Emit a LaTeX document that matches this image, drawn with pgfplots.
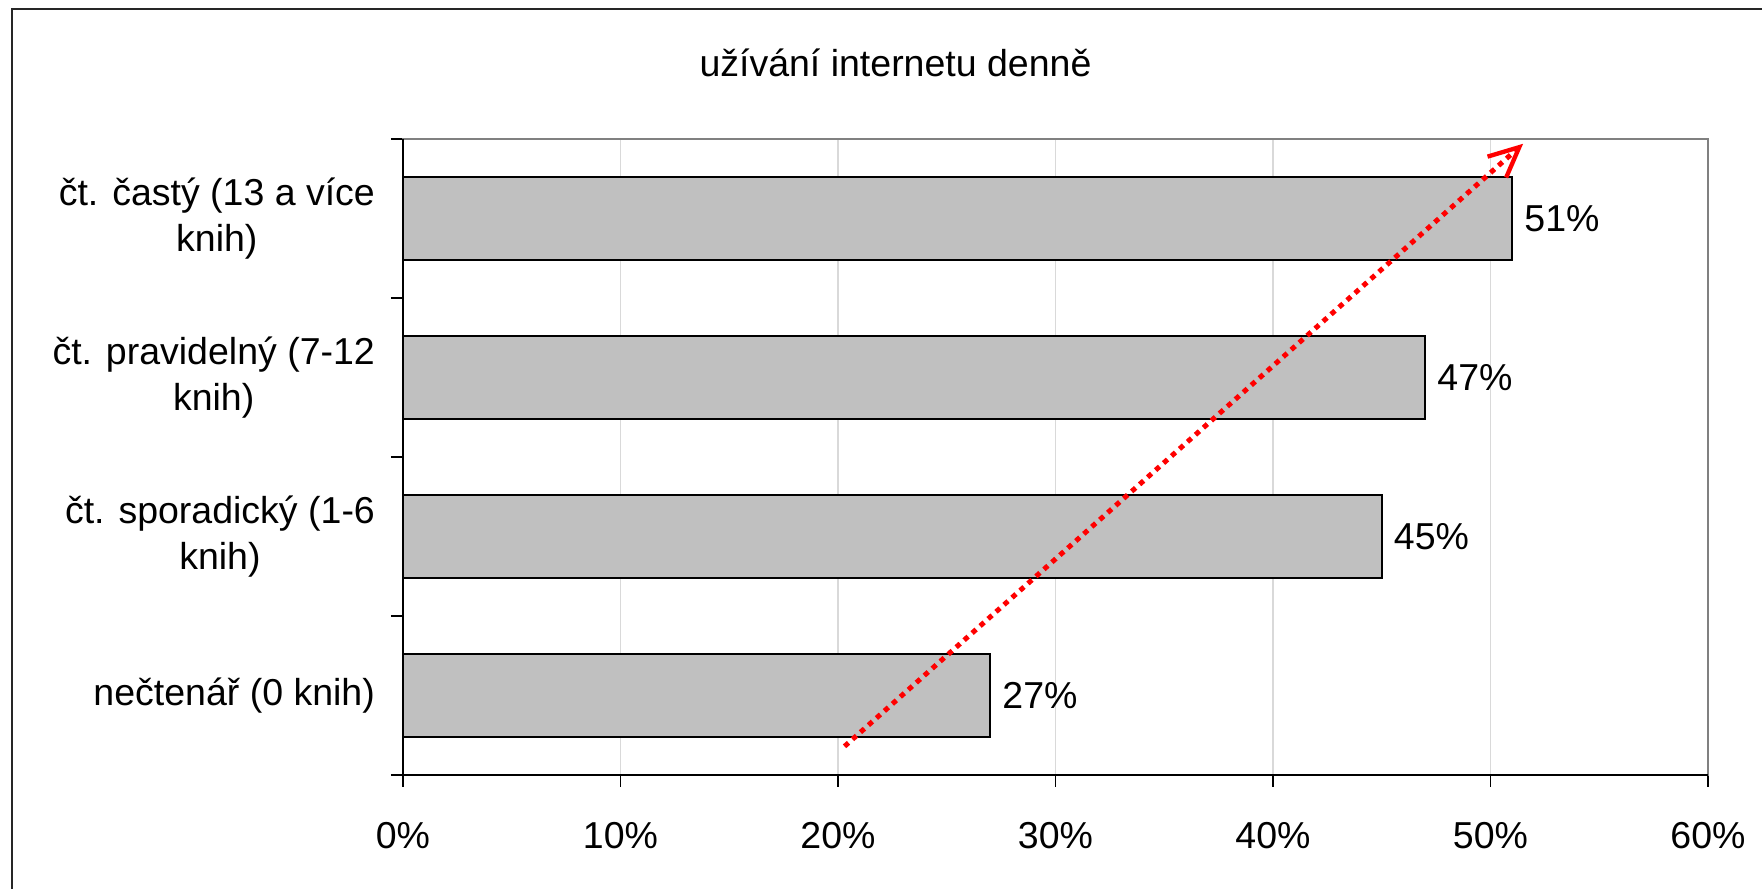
\documentclass[border=0pt]{standalone}
\usepackage{fontspec}
\setmainfont{Liberation Sans}
\usepackage{pgfplots}
\pgfplotsset{compat=1.18}
\usetikzlibrary{arrows.meta}

\definecolor{barfill}{HTML}{C0C0C0}
\definecolor{framegray}{HTML}{808080}
\definecolor{gridgray}{HTML}{D9D9D9}
\newcommand{\chartfont}{\fontsize{11.25}{14}\selectfont}

\begin{document}
\begin{tikzpicture}[font=\chartfont]
    % page size and outer frame (cut at right and bottom)
    \useasboundingbox (-120.9pt,-34.2pt) rectangle (407.7pt,232.5pt);
    \draw[line width=0.6pt, black!85] (-117.3pt,-40pt) -- (-117.3pt,229.8pt) -- (410pt,229.8pt);
    \node[anchor=base] at (147.75pt,209.4pt) {užívání internetu denně};

    \begin{axis}[
        at={(0,0)}, anchor=south west,
        scale only axis,
        width=391.5pt,
        height=190.8pt,
        xmin=0, xmax=60,
        ymin=-0.5, ymax=3.5,
        xtick={0,10,...,60},
        xticklabel={\pgfmathprintnumber{\tick}\%},
        /pgf/number format/assume math mode=true,
        ytick={0,1,2,3},
        yticklabels={{nečtenář (0 knih)},{čt. sporadický (1-6\\knih)},{čt. pravidelný (7-12\\knih)},{čt. častý (13 a více\\knih)}},
        yticklabel style={align=center, xshift=-1.3pt},
        minor ytick={-0.5,0.5,1.5,2.5,3.5},
        major y tick style={draw=none},
        tick align=outside,
        major tick length=3.6pt,
        minor tick length=3.6pt,
        tick style={black, line width=0.45pt},
        xtick pos=bottom,
        ytick pos=left,
        tick label style={font=\chartfont},
        xticklabel style={yshift=-7pt},
        axis line style={draw=framegray, line width=0.6pt},
        xmajorgrids,
        grid style={gridgray, line width=0.4pt},
        clip=false,
    ]
    \addplot[xbar, bar width=24.9pt, fill=barfill, draw=black, line width=0.65pt,
        point meta=x,
        nodes near coords={\pgfmathprintnumber{\pgfplotspointmeta}\%},
        nodes near coords style={font=\chartfont, anchor=west, /pgf/number format/assume math mode=true},
    ] coordinates {
        (27,0)
        (45,1)
        (47,2)
        (51,3)
    };
    \addplot[red, line width=1.5pt, line cap=butt, dash pattern=on 1.6pt off 1.6pt,
        -{Straight Barb[length=9pt, width=8.4pt, line width=1.3pt]}]
        coordinates {(20.3,-0.32) (51.5,3.47)};
    \draw[black, line width=0.5pt] (rel axis cs:0,1) -- (rel axis cs:0,0) -- (rel axis cs:1,0);
    \end{axis}
\end{tikzpicture}
\end{document}
